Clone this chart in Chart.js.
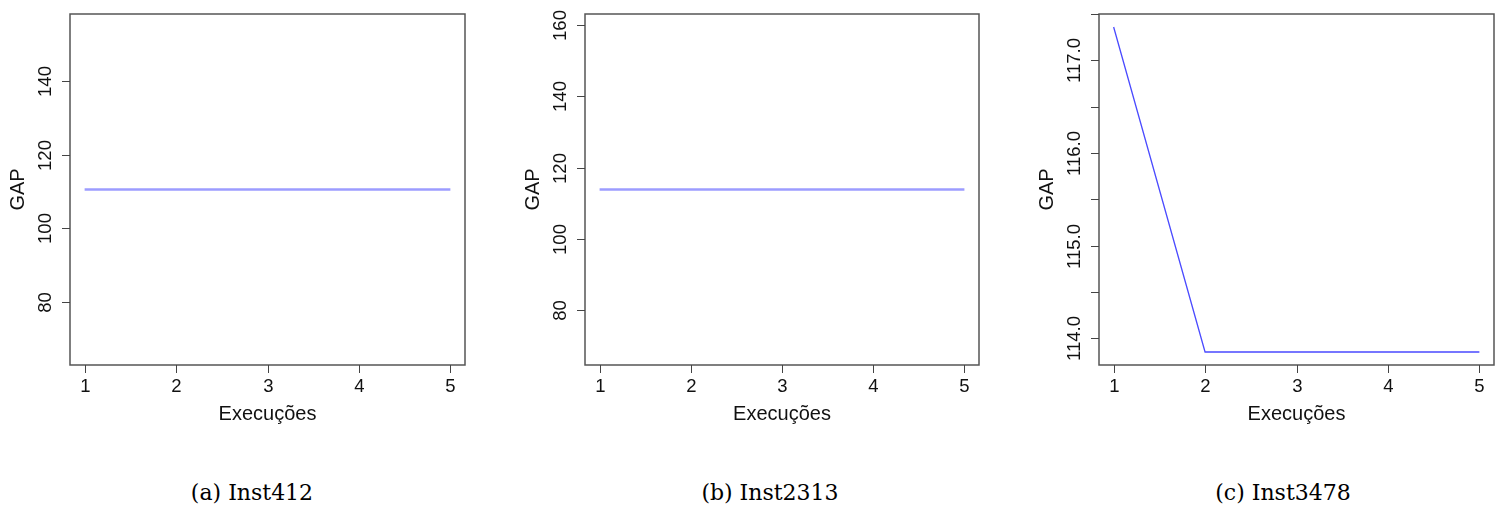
<!DOCTYPE html>
<html>
<head>
<meta charset="utf-8">
<title>GAP por execução</title>
<script src="https://cdn.jsdelivr.net/npm/chart.js@4.4.0/dist/chart.umd.min.js"></script>
<style>
    body { margin: 0; background: #fff; }
    #wrap { position: relative; width: 1496px; height: 511px; background: #fff; }
    canvas { position: absolute; top: 0; }
    .cap { position: absolute; top: 480px; width: 300px; text-align: center;
           font-family: "DejaVu Serif", serif; font-size: 22px; color: #000; }
</style>
</head>
<body>
<div id="wrap">
    <canvas id="c1" width="490" height="440" style="left:0px"></canvas>
    <canvas id="c2" width="500" height="440" style="left:500px"></canvas>
    <canvas id="c3" width="486" height="440" style="left:1010px"></canvas>
    <div class="cap" style="left:102px">(a) Inst412</div>
    <div class="cap" style="left:620px">(b) Inst2313</div>
    <div class="cap" style="left:1133px">(c) Inst3478</div>
</div>
<script>
    // data
    var execucoes = [1, 2, 3, 4, 5];
    var gapInst412 = [110.5, 110.5, 110.5, 110.5, 110.5];
    var gapInst2313 = [113.85, 113.85, 113.85, 113.85, 113.85];
    var gapInst3478 = [117.36, 113.85, 113.85, 113.85, 113.85];

    var xTicks = [1, 2, 3, 4, 5];
    var yTicksA = [80, 100, 120, 140];
    var yLabelsA = ['80', '100', '120', '140'];
    var yTicksB = [80, 100, 120, 140, 160];
    var yLabelsB = ['80', '100', '120', '140', '160'];
    var yTicksC = [114, 114.5, 115, 115.5, 116, 116.5, 117, 117.5];
    var yLabelsC = ['114.0', '', '115.0', '', '116.0', '', '117.0', ''];

    // R style axis limits (4% extension, constant data widened by 40%)
    function rLimits(vals) {
        var lo = Math.min.apply(null, vals), hi = Math.max.apply(null, vals);
        if (lo === hi) { lo = lo - 0.4 * Math.abs(lo); hi = hi + 0.4 * Math.abs(hi); }
        var d = (hi - lo) * 0.04;
        return [lo - d, hi + d];
    }

    var rAxes = {
        id: 'rAxes',
        afterDraw: function(chart, args, opts) {
            var ctx = chart.ctx, a = chart.chartArea;
            var sx = chart.scales.x, sy = chart.scales.y;
            ctx.save();
            ctx.strokeStyle = '#555';
            ctx.lineWidth = 1.5;
            ctx.strokeRect(a.left, a.top, a.right - a.left, a.bottom - a.top);

            ctx.strokeStyle = '#444';
            ctx.lineWidth = 1;
            ctx.fillStyle = '#111';
            ctx.font = '18.5px "Liberation Sans", Arial, sans-serif';
            ctx.textAlign = 'center';
            ctx.textBaseline = 'middle';
            xTicks.forEach(function(v) {
                var px = Math.round(sx.getPixelForValue(v)) + 0.5;
                ctx.beginPath();
                ctx.moveTo(px, a.bottom);
                ctx.lineTo(px, a.bottom + 8);
                ctx.stroke();
                ctx.fillText(String(v), px, a.bottom + 22);
            });
            opts.yTicks.forEach(function(v, i) {
                var py = Math.round(sy.getPixelForValue(v)) + 0.5;
                ctx.beginPath();
                ctx.moveTo(a.left - 8, py);
                ctx.lineTo(a.left, py);
                ctx.stroke();
                if (opts.yLabels[i]) {
                    ctx.save();
                    ctx.translate(a.left - 24, py);
                    ctx.rotate(-Math.PI / 2);
                    ctx.fillText(opts.yLabels[i], 0, 0);
                    ctx.restore();
                }
            });

            ctx.font = '20px "Liberation Sans", Arial, sans-serif';
            ctx.fillText('Execuções', (a.left + a.right) / 2, a.bottom + 49);
            ctx.save();
            ctx.translate(a.left - 52, (a.top + a.bottom) / 2);
            ctx.rotate(-Math.PI / 2);
            ctx.fillText('GAP', 0, 0);
            ctx.restore();
            ctx.restore();
        }
    };

    function makeChart(id, values, color, width, yTicks, yLabels, pad) {
        var xl = rLimits(execucoes), yl = rLimits(values);
        var pts = execucoes.map(function(x, i) { return { x: x, y: values[i] }; });
        return new Chart(document.getElementById(id).getContext('2d'), {
            type: 'line',
            data: {
                datasets: [{
                    data: pts,
                    borderColor: color,
                    borderWidth: width,
                    pointRadius: 0,
                    tension: 0,
                    fill: false
                }]
            },
            options: {
                responsive: false,
                animation: false,
                devicePixelRatio: 1,
                layout: { padding: pad },
                plugins: {
                    legend: { display: false },
                    tooltip: { enabled: false },
                    rAxes: { yTicks: yTicks, yLabels: yLabels }
                },
                scales: {
                    x: { type: 'linear', display: false, min: xl[0], max: xl[1] },
                    y: { type: 'linear', display: false, min: yl[0], max: yl[1] }
                }
            },
            plugins: [rAxes]
        });
    }

    makeChart('c1', gapInst412, '#9c9cff', 2.5, yTicksA, yLabelsA, { left: 70, right: 25, top: 14, bottom: 75 });
    makeChart('c2', gapInst2313, '#9c9cff', 2.5, yTicksB, yLabelsB, { left: 85, right: 21, top: 14, bottom: 75 });
    makeChart('c3', gapInst3478, '#4a4aff', 1.3, yTicksC, yLabelsC, { left: 89, right: 2, top: 14, bottom: 75 });
</script>
</body>
</html>
